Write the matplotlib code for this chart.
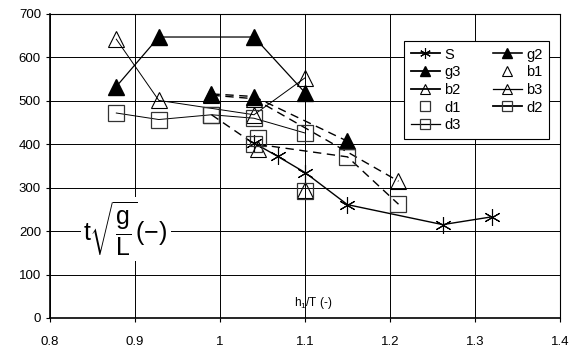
import numpy as np
import matplotlib.pyplot as plt
from matplotlib.lines import Line2D

plt.rcParams['font.family'] = 'Liberation Sans'
plt.rcParams['mathtext.fontset'] = 'custom'
plt.rcParams['mathtext.rm'] = 'Liberation Sans'
plt.rcParams['mathtext.it'] = 'Liberation Sans'

# podaci ocitani sa slike
x_S = [1.04, 1.068, 1.10, 1.15, 1.262, 1.32]
y_S = [403, 372, 335, 261, 215, 233]
x_g2 = [0.878, 0.928, 1.04, 1.10]
y_g2 = [533, 647, 647, 519]
x_g3 = [0.99, 1.04, 1.15]
y_g3 = [516, 510, 407]
x_b1 = [1.045, 1.10]
y_b1 = [388, 295]
x_b2 = [0.99, 1.04, 1.21]
y_b2 = [513, 505, 315]
x_b3 = [0.878, 0.928, 1.04, 1.10]
y_b3 = [642, 501, 468, 553]
x_d1 = [1.045, 1.10]
y_d1 = [414, 292]
x_d2 = [0.99, 1.04, 1.15, 1.21]
y_d2 = [468, 401, 371, 262]
x_d3 = [0.878, 0.928, 0.99, 1.04, 1.10]
y_d3 = [472, 457, 468, 460, 426]

fig = plt.figure(figsize=(5.76, 3.48), dpi=100)
ax = fig.add_axes([50/576, 1-318/348, 510/576, 304/348])

crt = dict(dashes=(6, 4))
lS, = ax.plot(x_S, y_S, color='k', lw=1.0, marker=(6, 2, 0), ms=12, mew=0.8, label='S')
lg2, = ax.plot(x_g2, y_g2, color='k', lw=0.9, marker='^', ms=11, mfc='k', label='g2')
lg3, = ax.plot(x_g3, y_g3, color='k', lw=1.0, marker='^', ms=11, mfc='k', label='g3', **crt)
lb1, = ax.plot(x_b1, y_b1, color='k', lw=0, marker='^', ms=11, mfc='none', mew=0.8, label='b1')
lb2, = ax.plot(x_b2, y_b2, color='k', lw=1.0, marker='^', ms=11, mfc='none', mew=0.8, label='b2', **crt)
lb3, = ax.plot(x_b3, y_b3, color='k', lw=0.7, marker='^', ms=11, mfc='none', mew=0.8, label='b3')
ld1, = ax.plot(x_d1, y_d1, color='#333333', lw=0, marker='s', ms=11, mfc='none', mew=0.9, label='d1')
ld2, = ax.plot(x_d2, y_d2, color='k', lw=1.0, marker='s', ms=11, mfc='none', mec='#333333', mew=0.9, label='d2', **crt)
ld3, = ax.plot(x_d3, y_d3, color='k', lw=0.7, marker='s', ms=11, mfc='none', mec='#333333', mew=0.9, label='d3')

ax.set_xlim(0.8, 1.4)
ax.set_ylim(0, 700)
ax.set_xticks(np.arange(0.8, 1.41, 0.1))
ax.set_xticklabels(['0.8', '0.9', '1', '1.1', '1.2', '1.3', '1.4'])
ax.set_yticks(range(0, 701, 100))
ax.tick_params(labelsize=9.5, length=3, width=0.8, direction='out', colors='k')
ax.tick_params(axis='x', pad=10)
ax.grid(True, color='k', lw=0.7)
ax.set_axisbelow(True)
for s in ax.spines.values():
    s.set_linewidth(0.8)
    s.set_color('k')
ax.spines['left'].set_linewidth(1.2)
ax.spines['bottom'].set_linewidth(1.2)

ax.text(1.11, 35, 'h$_1$/T (-)', fontsize=8.5, ha='center', va='center')
ax.text(0.889, 205, r'$\mathrm{t}\sqrt{\dfrac{\mathrm{g}}{\mathrm{L}}}(-)$', fontsize=18,
        ha='center', va='center', bbox=dict(facecolor='white', edgecolor='none', pad=2))

# legenda s punim linijama kao na originalu
redoslijed = [lS, lg3, lb2, ld1, ld3, lg2, lb1, lb3, ld2]
h = []
for l in redoslijed:
    h.append(Line2D([], [], color=l.get_color(), lw=l.get_linewidth() * 1.3 if l.get_linewidth() > 0 else 0,
                    marker=l.get_marker(), ms=l.get_markersize() * 0.65,
                    mfc=l.get_markerfacecolor(), mec=l.get_markeredgecolor(),
                    mew=l.get_markeredgewidth(), linestyle='-'))
leg = ax.legend(handles=h, labels=[l.get_label() for l in redoslijed], ncol=2, loc='upper left',
                bbox_to_anchor=(354/510, 1-27/304), borderaxespad=0, fontsize=10.5,
                frameon=True, fancybox=False, edgecolor='k', framealpha=1,
                handlelength=2.0, handletextpad=0.3, columnspacing=2.2,
                labelspacing=0.25, borderpad=0.45)
leg.get_frame().set_linewidth(0.8)

fig.savefig('out.png', dpi=100)
